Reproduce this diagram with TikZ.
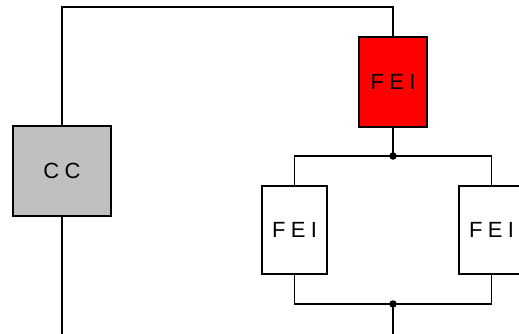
\documentclass[tikz,border=0pt]{standalone}
\usepackage{fontspec}
\newfontfamily\lblfont{Liberation Sans}[LetterSpace=24]
\definecolor{boxgray}{HTML}{C0C0C0}
\definecolor{boxred}{HTML}{FF0000}
\tikzset{
  wire/.style={line width=1.7pt, line join=miter},
  block/.style={draw, line width=1.7pt, inner sep=0pt, minimum width=65pt, minimum height=88pt,
    font=\lblfont\fontsize{22}{26}\selectfont},
  junction/.style={circle, fill=black, inner sep=0pt, minimum size=7.5pt}
}
\begin{document}
\begin{tikzpicture}[x=1pt, y=-1pt]
  \useasboundingbox (0,0) rectangle (519,333);
  \clip (0,0) rectangle (519,333);
  % blocks
  \node[block, fill=boxgray, minimum width=98pt, minimum height=90pt] (cc) at (62,171) {CC};
  \node[block, fill=boxred, minimum width=68pt, minimum height=90pt] (fei0) at (393,82) {FEI};
  \node[block, fill=white] (feiL) at (294.5,230) {FEI};
  \node[block, fill=white] (feiR) at (491.5,230) {FEI};
  % wiring points
  \coordinate (tl) at (62,7);
  \coordinate (tr) at (393,7);
  \coordinate (jt) at (393,156);
  \coordinate (jb) at (393,304);
  \coordinate (ccend) at (62,340);
  \coordinate (outend) at (393,340);
  % series path across the top
  \draw[wire] (cc.north) -- (tl) -- (tr) -- (fei0.north);
  \draw[wire] (fei0.south) -- (jt);
  % parallel branch
  \draw[wire] (feiL.north) |- (jt) -| (feiR.north);
  \draw[wire] (feiL.south) |- (jb) -| (feiR.south);
  \draw[wire] (jb) -- (outend);
  \draw[wire] (cc.south) -- (ccend);
  % junction dots
  \node[junction] (dt) at (jt) {};
  \node[junction] (db) at (jb) {};
\end{tikzpicture}
\end{document}
